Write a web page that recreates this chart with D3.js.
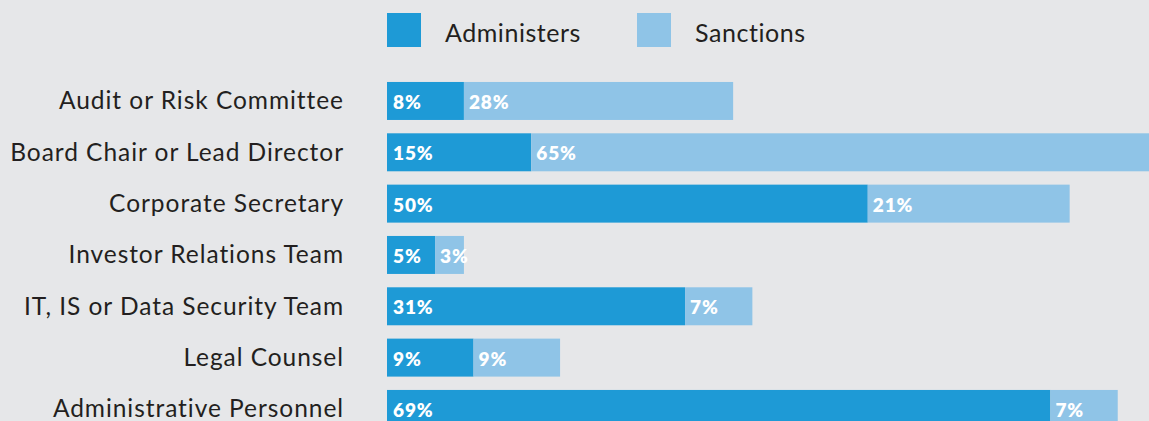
<!DOCTYPE html>
<html>
<head>
<meta charset="utf-8">
<script src="https://cdn.jsdelivr.net/npm/d3@7"></script>
<style>
  html, body { margin: 0; padding: 0; background: #e6e7e9; overflow: hidden; }
  svg { display: block; font-family: Lato, "Open Sans", sans-serif; }
</style>
</head>
<body>
<svg id="chart" width="1149" height="421"></svg>
<script>
// Who administers / sanctions the activity, share of respondents (%)
const categories = [
  "Audit or Risk Committee",
  "Board Chair or Lead Director",
  "Corporate Secretary",
  "Investor Relations Team",
  "IT, IS or Data Security Team",
  "Legal Counsel",
  "Administrative Personnel"
];
const administers = [8, 15, 50, 5, 31, 9, 69];
const sanctions = [28, 65, 21, 3, 7, 9, 7];
const seriesNames = ["Administers", "Sanctions"];
const colors = ["#1e9ad6", "#8fc4e7"];

const svg = d3.select("#chart");

const x = d3.scaleLinear().domain([0, 80]).range([387, 387 + 769.2]);
const y = d3.scaleBand().domain(categories).range([82 - 6.7, 82 - 6.7 + 51.33 * 7]).paddingInner(0.26).paddingOuter(0.13);

const rows = categories.map((c, i) => ({ cat: c, a: administers[i], s: sanctions[i] }));

// category labels
svg.append("g").selectAll("text").data(rows).join("text")
  .attr("x", 344)
  .attr("y", d => y(d.cat) + y.bandwidth() / 2 + 8.5)
  .attr("text-anchor", "end")
  .attr("font-size", 24.5)
  .attr("letter-spacing", 0.95)
  .attr("fill", "#231f20")
  .text(d => d.cat);

// stacked bars
const g = svg.append("g");
g.selectAll("rect.a").data(rows).join("rect")
  .attr("class", "a")
  .attr("x", x(0))
  .attr("y", d => y(d.cat))
  .attr("width", d => x(d.a) - x(0))
  .attr("height", y.bandwidth())
  .attr("fill", colors[0]);
g.selectAll("rect.s").data(rows).join("rect")
  .attr("class", "s")
  .attr("x", d => x(d.a))
  .attr("y", d => y(d.cat))
  .attr("width", d => x(d.a + d.s) - x(d.a))
  .attr("height", y.bandwidth())
  .attr("fill", colors[1]);

// value labels
const vl = svg.append("g").attr("font-size", 19).attr("font-weight", 800)
  .attr("letter-spacing", 0.9).attr("fill", "#ffffff");
vl.selectAll("text.a").data(rows).join("text")
  .attr("x", d => x(0) + 6)
  .attr("y", d => y(d.cat) + y.bandwidth() / 2 + 8)
  .text(d => d.a + "%");
vl.selectAll("text.s").data(rows).join("text")
  .attr("x", d => x(d.a) + 5)
  .attr("y", d => y(d.cat) + y.bandwidth() / 2 + 8)
  .text(d => d.s + "%");

// legend
const legendX = [387, 637];
const lg = svg.append("g").selectAll("g").data(seriesNames).join("g")
  .attr("transform", (d, i) => `translate(${legendX[i]},13)`);
lg.append("rect").attr("width", 34).attr("height", 34).attr("fill", (d, i) => colors[i]);
lg.append("text").attr("x", 58).attr("y", 28.5)
  .attr("font-size", 25).attr("letter-spacing", 0.55)
  .attr("fill", "#231f20").text(d => d);
</script>
</body>
</html>
